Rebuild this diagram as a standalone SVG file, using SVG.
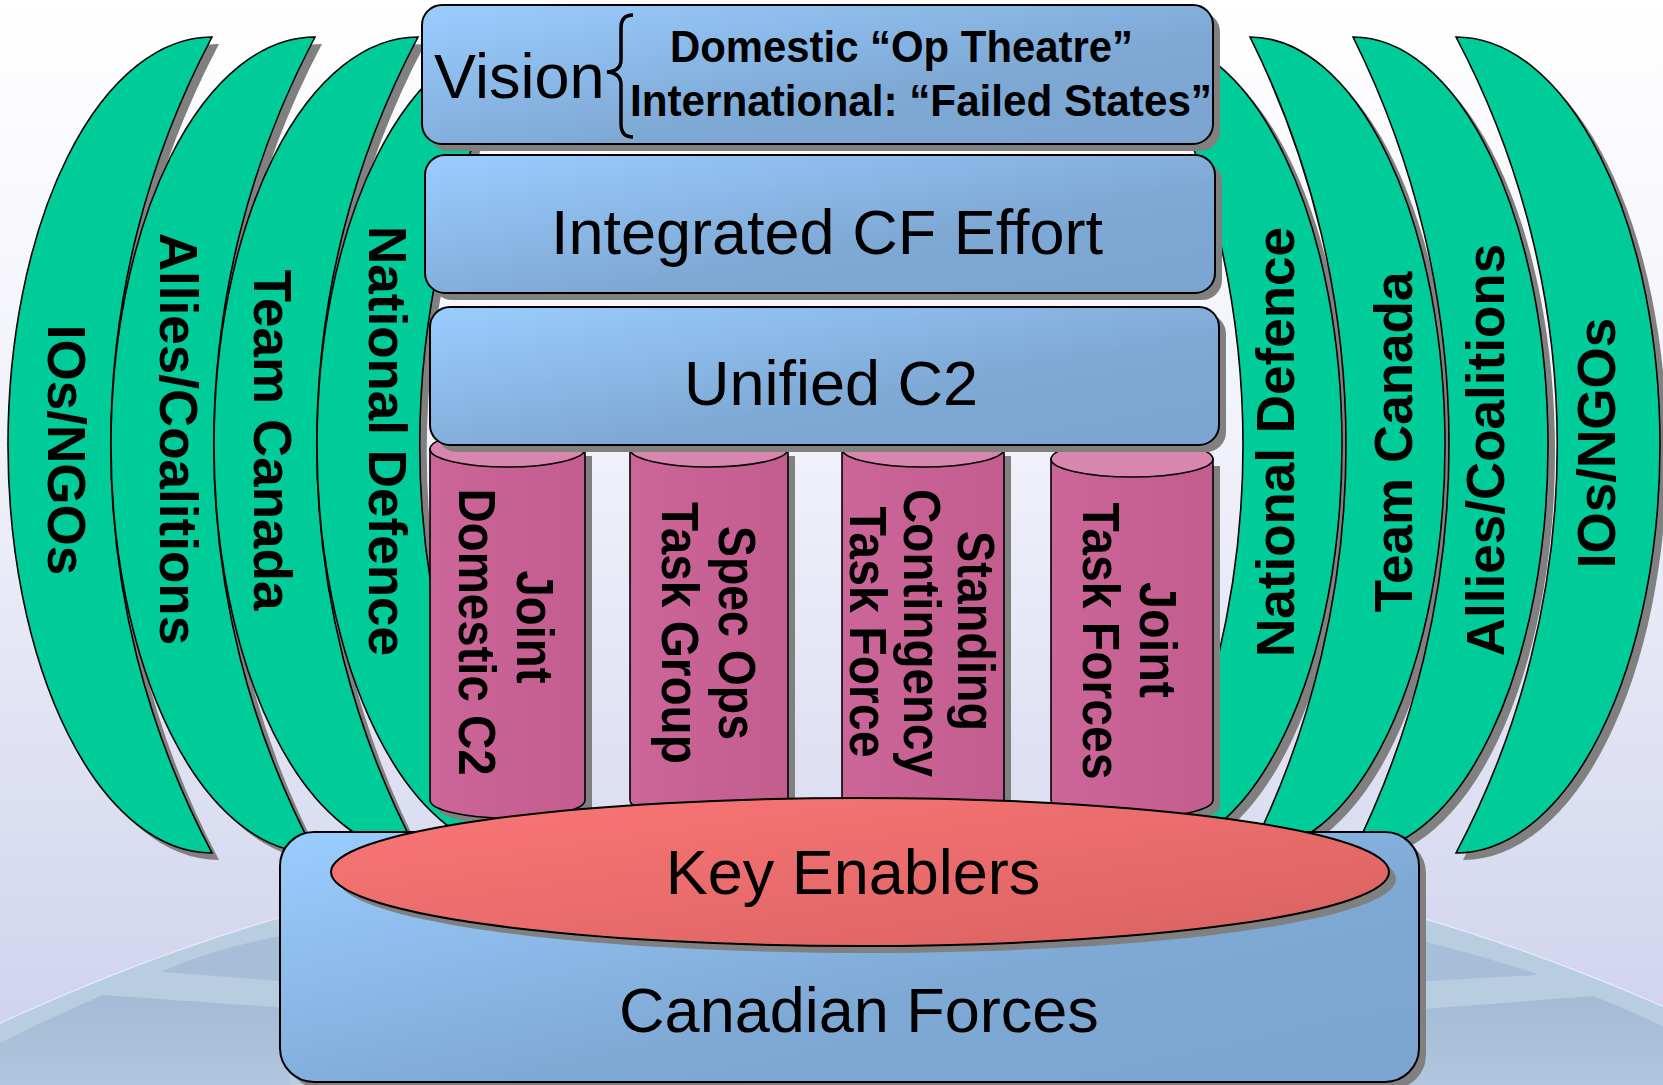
<svg xmlns="http://www.w3.org/2000/svg" xmlns:xlink="http://www.w3.org/1999/xlink" width="1663" height="1085" viewBox="0 0 1663 1085">
<style>
.sh{fill:#808080;stroke:none}
.moon{fill:#00cc99;stroke:#000;stroke-width:1.6}
.box{fill:url(#boxg);stroke:#000;stroke-width:2}
.cyl{fill:url(#cylg);stroke:#000;stroke-width:1.6}
.cap{fill:#d886ad;stroke:#000;stroke-width:1.6}
.gt{font-family:"Liberation Sans",Arial,sans-serif;font-weight:bold;font-size:53px;text-anchor:middle;fill:#000}
.ct{font-family:"Liberation Sans",Arial,sans-serif;font-weight:bold;font-size:51px;text-anchor:middle;fill:#000}
.rt{font-family:"Liberation Sans",Arial,sans-serif;font-size:63px;text-anchor:middle;fill:#000}
.vt{font-family:"Liberation Sans",Arial,sans-serif;font-weight:bold;font-size:44px;fill:#000}
</style>
<defs>
<linearGradient id="bg" x1="0" y1="0" x2="0" y2="1">
<stop offset="0" stop-color="#ffffff"/><stop offset="0.4" stop-color="#f1f2fa"/><stop offset="1" stop-color="#cdd0ec"/>
</linearGradient>
<linearGradient id="boxg" x1="0" y1="0" x2="1" y2="1">
<stop offset="0" stop-color="#9acdff"/><stop offset="0.6" stop-color="#7fa9d5"/><stop offset="1" stop-color="#7ba4d0"/>
</linearGradient>
<linearGradient id="keg" x1="0" y1="0" x2="1" y2="1">
<stop offset="0" stop-color="#fb7676"/><stop offset="1" stop-color="#d96262"/>
</linearGradient>
<linearGradient id="cylg" x1="0" y1="0" x2="1" y2="0">
<stop offset="0" stop-color="#cc6699"/><stop offset="1" stop-color="#c35d8e"/>
</linearGradient>
<linearGradient id="glob" x1="0" y1="0" x2="0" y2="1">
<stop offset="0" stop-color="#a3bbd5"/><stop offset="1" stop-color="#b1c6de"/>
</linearGradient>
<path id="moonL" d="M0,37 A204,408 0 0 0 0,853 A872.6,872.6 0 0 1 0,37 Z"/>
<path id="moonR" d="M0,37 A204,408 0 0 1 0,853 A872.6,872.6 0 0 0 0,37 Z"/>
<path id="moonR2" d="M0,37 A195,408 0 0 1 0,853 A915,915 0 0 0 0,37 Z"/>
</defs>

<rect x="0" y="0" width="1663" height="1085" fill="url(#bg)"/>

<g id="globe">
<circle cx="850" cy="2848" r="2013" fill="#b9cde1" stroke="#e6ecf5" stroke-width="1.2"/>
<path d="M160,972 Q215,948 290,934 L290,982 Q220,976 160,972 Z" fill="#a6bed7"/>
<path d="M0,1043 Q50,1018 103,995 L290,1008 L290,1085 L0,1085 Z" fill="url(#glob)"/>
<path d="M1537,974 Q1480,955 1410,938 L1410,982 L1537,975 Z" fill="#a6bed7"/>
<path d="M1410,1010 L1593,996 Q1630,1010 1663,1027 L1663,1085 L1410,1085 Z" fill="url(#glob)"/>
</g>

<g id="left-ios">
<use xlink:href="#moonL" x="219" y="7" class="sh"/>
<use xlink:href="#moonL" x="212" class="moon"/>
<text class="gt" transform="translate(48,450) rotate(90)">IOs/NGOs</text>
</g>
<g id="left-allies">
<use xlink:href="#moonL" x="322" y="7" class="sh"/>
<use xlink:href="#moonL" x="315" class="moon"/>
<text class="gt" transform="translate(160,439) rotate(90)">Allies/Coalitions</text>
</g>
<g id="left-team">
<use xlink:href="#moonL" x="425" y="7" class="sh"/>
<use xlink:href="#moonL" x="418" class="moon"/>
<text class="gt" transform="translate(254,440) rotate(90)">Team Canada</text>
</g>
<g id="left-natdef">
<use xlink:href="#moonL" x="528" y="7" class="sh"/>
<use xlink:href="#moonL" x="521" class="moon"/>
<text class="gt" transform="translate(369,441) rotate(90)">National Defence</text>
</g>

<g id="right-natdef">
<use xlink:href="#moonR2" x="1154" y="7" class="sh"/>
<use xlink:href="#moonR2" x="1147" class="moon"/>
<text class="gt" transform="translate(1294,442) rotate(-90)">National Defence</text>
</g>
<g id="right-team">
<use xlink:href="#moonR2" x="1257" y="7" class="sh"/>
<use xlink:href="#moonR2" x="1250" class="moon"/>
<text class="gt" transform="translate(1412,442) rotate(-90)">Team Canada</text>
</g>
<g id="right-allies">
<use xlink:href="#moonR2" x="1360" y="7" class="sh"/>
<use xlink:href="#moonR2" x="1353" class="moon"/>
<text class="gt" transform="translate(1504,450) rotate(-90)">Allies/Coalitions</text>
</g>
<g id="right-ios">
<use xlink:href="#moonR" x="1463" y="7" class="sh"/>
<use xlink:href="#moonR" x="1456" class="moon"/>
<text class="gt" transform="translate(1615,443) rotate(-90)">IOs/NGOs</text>
</g>

<g id="cyl-jdc2">
<path class="sh" d="M437,456 L437,807 A77.5,18 0 0 0 592,807 L592,456 Z"/>
<path class="cyl" d="M430,449 L430,800 A77.5,18 0 0 0 585,800 L585,449 Z"/>
<ellipse class="cap" cx="507.5" cy="449" rx="77.5" ry="18"/>
<text class="ct" transform="translate(517,627) rotate(90)" textLength="113" lengthAdjust="spacingAndGlyphs">Joint</text>
<text class="ct" transform="translate(459,632) rotate(90)" textLength="287" lengthAdjust="spacingAndGlyphs">Domestic C2</text>
</g>
<g id="cyl-sotg">
<path class="sh" d="M637,456 L637,807 A79,18 0 0 0 795,807 L795,456 Z"/>
<path class="cyl" d="M630,449 L630,800 A79,18 0 0 0 788,800 L788,449 Z"/>
<ellipse class="cap" cx="709" cy="449" rx="79" ry="18"/>
<text class="ct" transform="translate(719,633) rotate(90)" textLength="214" lengthAdjust="spacingAndGlyphs">Spec Ops</text>
<text class="ct" transform="translate(662,633) rotate(90)" textLength="262" lengthAdjust="spacingAndGlyphs">Task Group</text>
</g>
<g id="cyl-sctf">
<path class="sh" d="M849,456 L849,807 A81,18 0 0 0 1011,807 L1011,456 Z"/>
<path class="cyl" d="M842,449 L842,800 A81,18 0 0 0 1004,800 L1004,449 Z"/>
<ellipse class="cap" cx="923" cy="449" rx="81" ry="18"/>
<text class="ct" transform="translate(958,631) rotate(90)" textLength="200" lengthAdjust="spacingAndGlyphs">Standing</text>
<text class="ct" transform="translate(904,633) rotate(90)" textLength="288" lengthAdjust="spacingAndGlyphs">Contingency</text>
<text class="ct" transform="translate(850,632) rotate(90)" textLength="251" lengthAdjust="spacingAndGlyphs">Task Force</text>
</g>
<g id="cyl-jtf">
<path class="sh" d="M1058,466 L1058,807 A81,18 0 0 0 1220,807 L1220,466 Z"/>
<path class="cyl" d="M1051,459 L1051,800 A81,18 0 0 0 1213,800 L1213,459 Z"/>
<ellipse class="cap" cx="1132" cy="459" rx="81" ry="18"/>
<text class="ct" transform="translate(1140,640) rotate(90)" textLength="116" lengthAdjust="spacingAndGlyphs">Joint</text>
<text class="ct" transform="translate(1083,641) rotate(90)" textLength="277" lengthAdjust="spacingAndGlyphs">Task Forces</text>
</g>

<g id="unified-c2">
<rect class="sh" x="437" y="314" width="789" height="138" rx="20"/>
<rect class="box" x="430" y="307" width="789" height="138" rx="20"/>
<text class="rt" x="831" y="405">Unified C2</text>
</g>
<g id="integrated-cf-effort">
<rect class="sh" x="432" y="162" width="790" height="138" rx="20"/>
<rect class="box" x="425" y="155" width="790" height="138" rx="20"/>
<text class="rt" x="827" y="254">Integrated CF Effort</text>
</g>
<g id="vision">
<rect class="sh" x="429" y="12" width="791" height="139" rx="20"/>
<rect class="box" x="422" y="5" width="791" height="139" rx="20"/>
<text class="rt" x="434" y="98" style="text-anchor:start">Vision</text>
<path d="M633,15 Q621,15 621,28 L621,60 Q621,71 607,72 Q621,73 621,85 L621,124 Q621,137 633,137" fill="none" stroke="#000" stroke-width="3.5"/>
<text class="vt" x="670" y="62" textLength="463" lengthAdjust="spacingAndGlyphs">Domestic “Op Theatre”</text>
<text class="vt" x="630" y="116" textLength="582" lengthAdjust="spacingAndGlyphs">International: “Failed States”</text>
</g>

<g id="canadian-forces">
<rect class="sh" x="287" y="839" width="1139" height="250" rx="34"/>
<rect class="box" x="280" y="832" width="1139" height="250" rx="34"/>
<text class="rt" x="859" y="1032">Canadian Forces</text>
</g>
<g id="key-enablers">
<ellipse class="sh" cx="867" cy="879" rx="529" ry="74"/>
<ellipse cx="860" cy="872" rx="529" ry="74" fill="url(#keg)" stroke="#000" stroke-width="2"/>
<text class="rt" x="853" y="894">Key Enablers</text>
</g>

<g id="connectors"></g>
</svg>
